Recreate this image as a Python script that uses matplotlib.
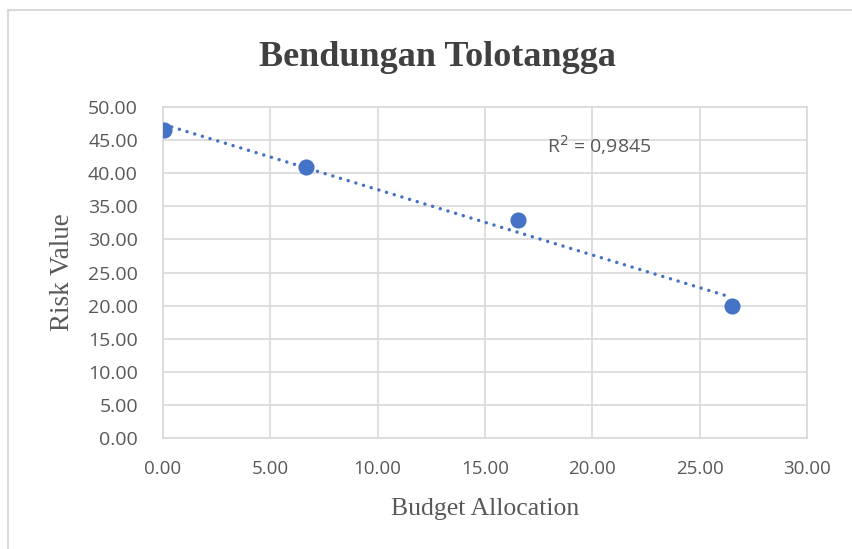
import matplotlib.pyplot as plt
import numpy as np
from matplotlib.patches import Rectangle

# values
budget = [0.05, 6.65, 16.55, 26.5]
risk = [46.5, 41.0, 33.0, 20.0]
x_ticks = [0, 5, 10, 15, 20, 25, 30]
y_ticks = [0, 5, 10, 15, 20, 25, 30, 35, 40, 45, 50]
r2_label = "R$^2$ = 0,9845"

BLUE = "#4472C4"
GRID = "#D9D9D9"
TXT = "#595959"

fig = plt.figure(figsize=(8.53, 5.49), dpi=100)
ax = fig.add_axes([0.191, 0.202, 0.755, 0.603])

# chart frame
fig.patches.append(Rectangle((0.009, -0.02), 1.2, 1.0 - 0.018 + 0.02, transform=fig.transFigure,
                             fill=False, edgecolor=GRID, linewidth=1.5))

ax.scatter(budget, risk, s=135, color=BLUE, zorder=4, linewidths=0)

# linear trendline
coef = np.polyfit(budget, risk, 1)
xs = np.array([min(budget), max(budget)])
ax.plot(xs, np.polyval(coef, xs), color=BLUE, linestyle=(0, (0.01, 2.3)), linewidth=2.5,
        dash_capstyle="round", zorder=3)

ax.set_xlim(0, 30)
ax.set_ylim(0, 50)
ax.set_xticks(x_ticks)
ax.set_yticks(y_ticks)
ax.set_xticklabels([f"{v:.2f}" for v in x_ticks], fontsize=13.5, color=TXT, family="Open Sans")
ax.set_yticklabels([f"{v:.2f}" for v in y_ticks], fontsize=14, color=TXT, family="Open Sans")
ax.tick_params(axis="y", length=0, pad=18)
ax.tick_params(axis="x", length=0, pad=16)
ax.grid(True, color=GRID, linewidth=1.2)
ax.set_axisbelow(True)
for sp in ax.spines.values():
    sp.set_color(GRID)
    sp.set_linewidth(1.2)

ax.set_xlabel("Budget Allocation", fontsize=18.5, color=TXT, family="Liberation Serif", labelpad=14)
ax.set_ylabel("Risk Value", fontsize=19.5, color=TXT, family="Liberation Serif", labelpad=9)
fig.text(0.513, 0.896, "Bendungan Tolotangga", ha="center", va="center", fontsize=26,
         fontweight="bold", color="#404040", family="Liberation Serif")
ax.text(17.9, 44.2, r2_label, fontsize=14, color=TXT, family="Open Sans", va="center", ha="left")

fig.savefig("out.png", dpi=100)
